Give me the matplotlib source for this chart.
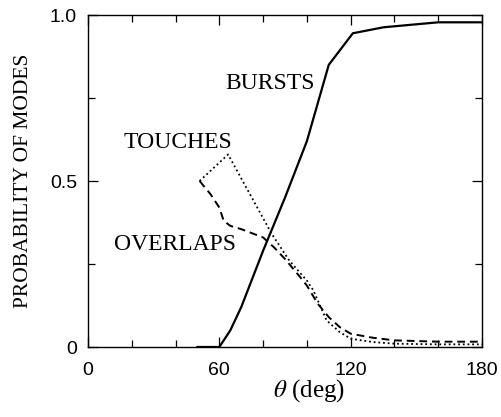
import numpy as np
import matplotlib
matplotlib.use("Agg")
import matplotlib.pyplot as plt
from matplotlib.ticker import MultipleLocator

# values
theta_bursts = [50, 60, 65, 70, 80, 90, 100, 110, 121, 135, 160, 180]
p_bursts = [0.0, 0.0, 0.05, 0.12, 0.29, 0.45, 0.62, 0.85, 0.945, 0.963, 0.978, 0.978]

theta_touches = [51, 64, 84, 92, 100, 103, 109, 115, 120, 130, 140, 160, 180]
p_touches = [0.50, 0.58, 0.34, 0.26, 0.20, 0.17, 0.08, 0.045, 0.025, 0.015, 0.01, 0.008, 0.008]

theta_overlaps = [51, 56, 60, 62, 65, 70, 80, 85, 90, 97, 100, 105, 110, 115, 120, 130, 140, 160, 180]
p_overlaps = [0.50, 0.46, 0.42, 0.38, 0.365, 0.355, 0.33, 0.30, 0.265, 0.21, 0.185, 0.13,
              0.09, 0.06, 0.04, 0.028, 0.02, 0.016, 0.016]

labels = ["BURSTS", "TOUCHES", "OVERLAPS"]
label_pos = [(62.6, 0.777), (16.4, 0.599), (11.9, 0.292)]

plt.rcParams["mathtext.fontset"] = "stix"

fig = plt.figure(figsize=(5.01, 4.17), dpi=100)
ax = fig.add_axes([88 / 501, 70 / 417, 394 / 501, 332 / 417])

ax.plot(theta_bursts, p_bursts, color="black", lw=1.6, solid_joinstyle="miter")
ax.plot(theta_touches, p_touches, color="black", lw=1.3, linestyle=(0, (1, 1.6)))
ax.plot(theta_overlaps, p_overlaps, color="black", lw=1.4, linestyle=(0, (4, 2.5)))

for txt, (x, y) in zip(labels, label_pos):
    ax.text(x, y, txt, family="Liberation Serif", fontsize=17,
            ha="left", va="baseline")

ax.set_xlim(0, 180)
ax.set_ylim(0, 1.0)
ax.xaxis.set_minor_locator(MultipleLocator(20))
ax.yaxis.set_minor_locator(MultipleLocator(0.25))
ax.set_xticks([0, 60, 120, 180])
ax.set_xticklabels(["0", "60", "120", "180"], family="Liberation Sans", fontsize=14)
ax.set_yticks([0, 0.5, 1.0])
ax.set_yticklabels(["0", "0.5", "1.0"], family="Liberation Sans", fontsize=14)
ax.tick_params(which="both", direction="in", top=True, right=True, width=0.9)
ax.tick_params(which="major", length=7)
ax.tick_params(which="minor", length=5)
ax.tick_params(axis="x", pad=11)
ax.tick_params(axis="y", pad=8)
for s in ax.spines.values():
    s.set_linewidth(1.0)

ax.set_xlabel(r"$\theta$ (deg)", family="Liberation Serif", fontsize=18)
ax.xaxis.set_label_coords(0.56, -0.09)
ax.set_ylabel("PROBABILITY OF MODES", family="Liberation Serif", fontsize=15.5)
ax.yaxis.set_label_coords(-0.14, 0.5)

fig.savefig("out.png", dpi=100)
